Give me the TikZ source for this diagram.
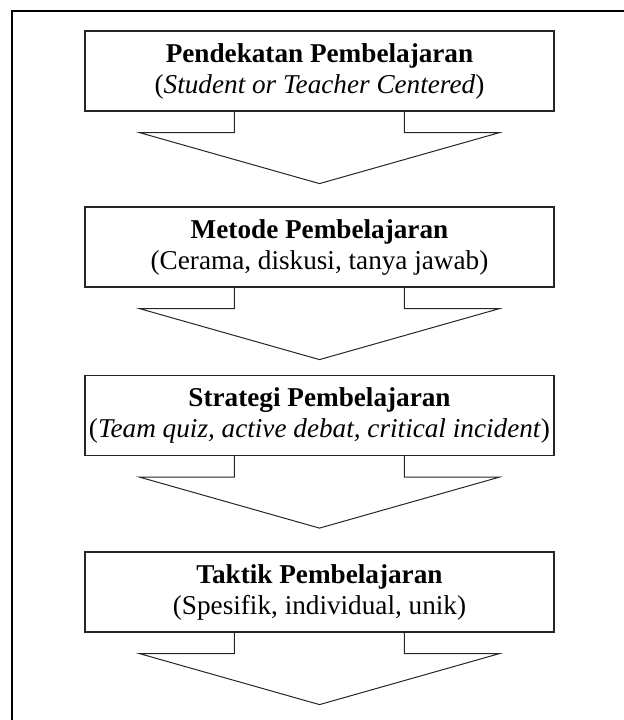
\documentclass[tikz,border=0pt]{standalone}
\usepackage{fontspec}
\setmainfont{Liberation Serif}
\usetikzlibrary{calc,positioning}
\tikzset{
  levelbox/.style={draw=black!85, line width=0.6pt, minimum width=234.5pt, minimum height=40pt,
    inner sep=0pt, align=center, font=\fontsize{13.6}{15.5}\selectfont},
  arrowline/.style={draw=black!85, line width=0.5pt, line join=miter}
}
\def\calloutarrow(#1){\draw[arrowline] ($(#1.south)+(-85,0)$) -- ++(0,21) -- ++(-95,0) -- ($(#1.south)+(0,72)$) -- ($(#1.south)+(180,21)$) -- ++(-95,0) -- ++(0,-21);}

\begin{document}
\begin{tikzpicture}[x=0.5pt,y=-0.5pt]
	%%%%% START %%%%%
	\useasboundingbox (0,0) rectangle (624,720);
	
	\draw[line width=1.1pt] (12,720) -- (12,11) -- (624,11);
	
	\node[levelbox] (pendekatan) at (319.5, 71) {\textbf{Pendekatan Pembelajaran}\\(\textit{Student or Teacher Centered})};
	\node[levelbox] (metode) at (319.5, 247) {\textbf{Metode Pembelajaran}\\(Cerama, diskusi, tanya jawab)};
	\node[levelbox] (strategi) at (319.5, 415.5) {\textbf{Strategi Pembelajaran}\\(\textit{Team quiz, active debat, critical incident})};
	\node[levelbox] (taktik) at (319.5, 592) {\textbf{Taktik Pembelajaran}\\(Spesifik, individual, unik)};
	
	\calloutarrow(pendekatan)
	\calloutarrow(metode)
	\calloutarrow(strategi)
	\calloutarrow(taktik)
	
	%%%%% END %%%%%
\end{tikzpicture}
\end{document}
